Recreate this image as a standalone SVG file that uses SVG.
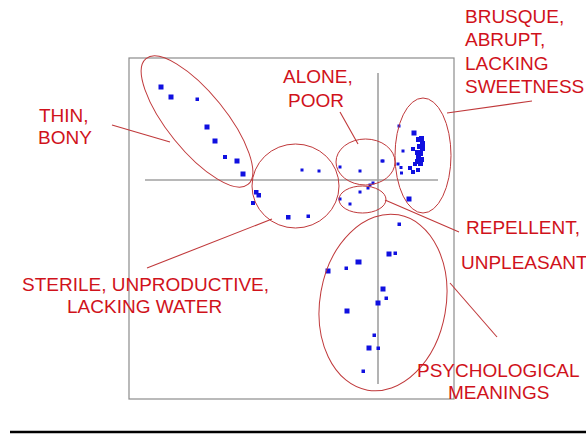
<svg xmlns="http://www.w3.org/2000/svg" width="586" height="434" viewBox="0 0 586 434">
<style>
.lbl{font-family:"Liberation Sans",Arial,sans-serif;font-size:19px;fill:#d0121b}
.ell{fill:none;stroke:#c0393b;stroke-width:1}
.con{stroke:#c0393b;stroke-width:1.1;fill:none}
.ax{stroke:#a0a0a0;stroke-width:1.6}
.pt{fill:#1010e0}
</style>
<rect width="586" height="434" fill="#ffffff"/>
<g id="plot">
<rect x="129" y="58" width="325" height="341" fill="none" stroke="#8c8c8c" stroke-width="1.2"/>
<line class="ax" x1="145" y1="180" x2="438" y2="180"/>
<line class="ax" x1="378" y1="73" x2="378" y2="384"/>
</g>
<g id="points">
<rect class="pt" x="158.5" y="84.5" width="5" height="5"/>
<rect class="pt" x="168.5" y="94.5" width="5" height="5"/>
<rect class="pt" x="195.5" y="97.5" width="3.5" height="3.5"/>
<rect class="pt" x="204.5" y="124.5" width="5" height="5"/>
<rect class="pt" x="212.5" y="138.5" width="5" height="5"/>
<rect class="pt" x="223" y="155" width="4" height="4"/>
<rect class="pt" x="234.5" y="158.5" width="5" height="5"/>
<rect class="pt" x="240.5" y="171.5" width="5" height="5"/>
<rect class="pt" x="254" y="190" width="4.5" height="4.5"/>
<rect class="pt" x="256.5" y="193" width="4.5" height="4.5"/>
<rect class="pt" x="251" y="201" width="4" height="4"/>
<rect class="pt" x="286" y="215" width="4.5" height="4.5"/>
<rect class="pt" x="306.5" y="214.5" width="3.5" height="3.5"/>
<rect class="pt" x="300.5" y="168.5" width="3" height="3"/>
<rect class="pt" x="317.5" y="169.5" width="3" height="3"/>
<rect class="pt" x="338.5" y="165.5" width="3" height="3"/>
<rect class="pt" x="358.5" y="169.5" width="3" height="3"/>
<rect class="pt" x="380.5" y="159.5" width="3" height="3"/>
<rect class="pt" x="371.5" y="181.5" width="3" height="3"/>
<rect class="pt" x="368.5" y="183.5" width="3" height="3"/>
<rect class="pt" x="366.5" y="186.5" width="3" height="3"/>
<rect class="pt" x="358.5" y="190.5" width="3" height="3"/>
<rect class="pt" x="338.5" y="197.5" width="3" height="3"/>
<rect class="pt" x="348.5" y="202.5" width="3" height="3"/>
<rect class="pt" x="397.5" y="124.5" width="3" height="3"/>
<rect class="pt" x="411.5" y="130.5" width="5" height="5"/>
<rect class="pt" x="416" y="137" width="5" height="5"/>
<rect class="pt" x="419" y="136" width="5" height="5"/>
<rect class="pt" x="420" y="141" width="5" height="5"/>
<rect class="pt" x="417" y="144" width="5" height="5"/>
<rect class="pt" x="420" y="146" width="5" height="5"/>
<rect class="pt" x="401.5" y="149.5" width="3" height="3"/>
<rect class="pt" x="411" y="147" width="4" height="4"/>
<rect class="pt" x="415" y="150" width="5" height="5"/>
<rect class="pt" x="418" y="151" width="5" height="5"/>
<rect class="pt" x="416" y="155" width="5" height="5"/>
<rect class="pt" x="419" y="157" width="5" height="5"/>
<rect class="pt" x="415" y="159" width="5" height="5"/>
<rect class="pt" x="418" y="161" width="5" height="5"/>
<rect class="pt" x="413" y="162" width="4" height="4"/>
<rect class="pt" x="381.5" y="159.5" width="3" height="3"/>
<rect class="pt" x="396.5" y="162.5" width="3" height="3"/>
<rect class="pt" x="399.5" y="166" width="3" height="3"/>
<rect class="pt" x="400" y="171.5" width="3" height="3"/>
<rect class="pt" x="408" y="166" width="4" height="4"/>
<rect class="pt" x="411" y="170" width="4" height="4"/>
<rect class="pt" x="416" y="168" width="4" height="4"/>
<rect class="pt" x="406.5" y="196.5" width="5" height="5"/>
<rect class="pt" x="397.5" y="222.5" width="3.5" height="3.5"/>
<rect class="pt" x="386.5" y="251.5" width="5" height="5"/>
<rect class="pt" x="393.5" y="251.5" width="3.5" height="3.5"/>
<rect class="pt" x="355.5" y="259.5" width="6" height="5"/>
<rect class="pt" x="344.5" y="266.5" width="3.5" height="3.5"/>
<rect class="pt" x="325.5" y="268.5" width="5" height="5"/>
<rect class="pt" x="380.5" y="286.5" width="5" height="5"/>
<rect class="pt" x="384.5" y="296.5" width="3.5" height="3.5"/>
<rect class="pt" x="375.5" y="300.5" width="5" height="5"/>
<rect class="pt" x="344.5" y="308.5" width="5" height="5"/>
<rect class="pt" x="372.5" y="333.5" width="3.5" height="3.5"/>
<rect class="pt" x="366.5" y="345.5" width="5" height="5"/>
<rect class="pt" x="376.5" y="346.5" width="3.5" height="3.5"/>
<rect class="pt" x="361.5" y="369.5" width="3.5" height="3.5"/>
</g>
<g id="n-thin"><ellipse class="ell" cx="197" cy="121.5" rx="81" ry="29" transform="rotate(51 197 121.5)"/>
<text class="lbl" x="39" y="122">THIN,</text><text class="lbl" x="38" y="144">BONY</text></g>
<g id="n-sterile"><ellipse class="ell" cx="295.5" cy="186" rx="43.5" ry="42"/>
<text class="lbl" x="22" y="291">STERILE, UNPRODUCTIVE,</text><text class="lbl" x="67" y="313">LACKING WATER</text></g>
<g id="n-alone"><ellipse class="ell" cx="365.5" cy="162" rx="29.5" ry="23"/>
<text class="lbl" x="283" y="83">ALONE,</text><text class="lbl" x="288" y="107">POOR</text></g>
<g id="n-repellent"><ellipse class="ell" cx="362.5" cy="199.5" rx="23.5" ry="13.5"/>
<text class="lbl" x="466" y="234">REPELLENT,</text><text class="lbl" x="461" y="269">UNPLEASANT</text></g>
<g id="n-brusque"><ellipse class="ell" cx="423" cy="155.5" rx="28" ry="57.5"/>
<text class="lbl" x="465" y="23">BRUSQUE,</text><text class="lbl" x="465" y="46">ABRUPT,</text><text class="lbl" x="465" y="70">LACKING</text><text class="lbl" x="465" y="93">SWEETNESS</text></g>
<g id="n-psych"><ellipse class="ell" cx="383" cy="302.5" rx="63" ry="89" transform="rotate(10 383 302.5)"/>
<text class="lbl" x="417" y="377">PSYCHOLOGICAL</text><text class="lbl" x="448" y="399">MEANINGS</text></g>
<g id="connectors">
<line class="con" x1="112" y1="125" x2="170" y2="142"/>
<line class="con" x1="340" y1="112" x2="358" y2="144"/>
<line class="con" x1="447" y1="113" x2="532" y2="101"/>
<line class="con" x1="385" y1="200" x2="459" y2="232"/>
<line class="con" x1="147" y1="268" x2="272" y2="219"/>
<line class="con" x1="450" y1="283" x2="497" y2="337"/>
</g>
<line x1="10" y1="432" x2="586" y2="432" stroke="#000" stroke-width="2.5"/>
</svg>
